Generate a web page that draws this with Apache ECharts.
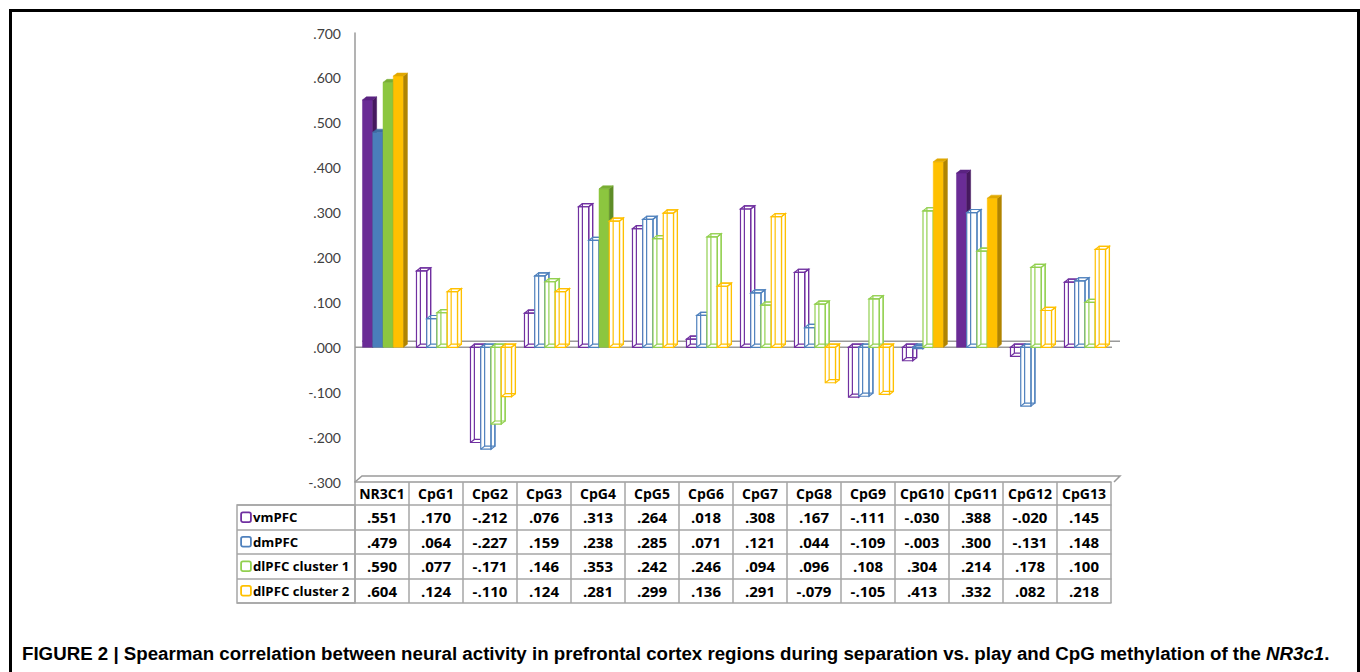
<!DOCTYPE html>
<html><head><meta charset="utf-8">
<script src="https://cdn.jsdelivr.net/npm/echarts@6/dist/echarts.min.js"></script>
<style>html,body{margin:0;padding:0;background:#fff}#c{width:1360px;height:672px}</style>
</head><body><div id="c"></div>
<script>
// ---------- data ----------
const categories = ['NR3C1','CpG1','CpG2','CpG3','CpG4','CpG5','CpG6','CpG7','CpG8','CpG9','CpG10','CpG11','CpG12','CpG13'];
const seriesNames = ['vmPFC','dmPFC','dlPFC cluster 1','dlPFC cluster 2'];
const vmPFC  = [0.551,0.170,-0.212,0.076,0.313,0.264,0.018,0.308,0.167,-0.111,-0.030,0.388,-0.020,0.145];
const dmPFC  = [0.479,0.064,-0.227,0.159,0.238,0.285,0.071,0.121,0.044,-0.109,-0.003,0.300,-0.131,0.148];
const dlPFC1 = [0.590,0.077,-0.171,0.146,0.353,0.242,0.246,0.094,0.096,0.108,0.304,0.214,0.178,0.100];
const dlPFC2 = [0.604,0.124,-0.110,0.124,0.281,0.299,0.136,0.291,-0.079,-0.105,0.413,0.332,0.082,0.218];
// significant correlations (drawn as solid bars)
const vmPFCSig  = [1,0,0,0,0,0,0,0,0,0,0,1,0,0];
const dmPFCSig  = [1,0,0,0,0,0,0,0,0,0,0,0,0,0];
const dlPFC1Sig = [1,0,0,0,1,0,0,0,0,0,0,0,0,0];
const dlPFC2Sig = [1,0,0,0,0,0,0,0,0,0,1,1,0,0];
const yMin = -0.3, yMax = 0.7, yStep = 0.1;

// ---------- styles ----------
const values = [vmPFC, dmPFC, dlPFC1, dlPFC2];
const sigs = [vmPFCSig, dmPFCSig, dlPFC1Sig, dlPFC2Sig];
const colors = ['#7030A0','#4F81BD','#92D050','#FFC000'];
const solid = ['#6A2C96','#4A7EBB','#8CC63F','#FFC000'];
const sides = ['#46195F','#30557F','#5E8C27','#B08400'];
const tops  = ['#5A2381','#3F6DA3','#79AE33','#E0A800'];
const gridLine = '#9a9a9a';
const tableLine = '#a6a6a6';

function fmt(v){
  const s = Math.abs(v).toFixed(3).replace(/^0/, '');
  return (v < -1e-9 ? '-' : '') + s;
}

function makeRender(si){
  return function(params, api){
    const ci = api.value(0), v = api.value(1), sig = api.value(2);
    const bw = api.size([1,0])[0];
    const w = bw * 0.19;
    const c = api.coord([ci, 0]);
    const p = api.coord([ci, v]);
    const x0 = c[0] - 2*w + si*w + 1;
    const x1 = x0 + w;
    const yTop = Math.min(c[1], p[1]), yBot = Math.max(c[1], p[1]);
    const dx = w*0.38, dy = -w*0.3;
    const frontPts = [[x0,yTop],[x1,yTop],[x1,yBot],[x0,yBot]];
    const topPts = [[x0,yTop],[x1,yTop],[x1+dx,yTop+dy],[x0+dx,yTop+dy]];
    const sidePts = [[x1,yTop],[x1+dx,yTop+dy],[x1+dx,yBot+dy],[x1,yBot]];
    const children = [];
    if (sig) {
      children.push({type:'polygon', shape:{points:frontPts}, style:{fill:solid[si], stroke:solid[si], lineWidth:0.5}});
      children.push({type:'polygon', shape:{points:sidePts}, style:{fill:sides[si], stroke:sides[si], lineWidth:0.5}});
      children.push({type:'polygon', shape:{points:topPts}, style:{fill:tops[si], stroke:tops[si], lineWidth:0.5}});
    } else {
      const silhouette = [[x0,yTop],[x0+dx,yTop+dy],[x1+dx,yTop+dy],[x1+dx,yBot+dy],[x1,yBot],[x0,yBot]];
      const st = {fill:'none', stroke:colors[si], lineWidth:1.2};
      children.push({type:'polygon', shape:{points:silhouette}, style:{fill:'#fff', stroke:'none'}});
      children.push({type:'polygon', shape:{points:[[x0+dx,yTop+dy],[x1+dx,yTop+dy],[x1+dx,yBot+dy],[x0+dx,yBot+dy]]}, style:st});
      children.push({type:'line', shape:{x1:x0, y1:yBot, x2:x0+dx, y2:yBot+dy}, style:st});
      children.push({type:'polygon', shape:{points:frontPts}, style:st});
      children.push({type:'polygon', shape:{points:topPts}, style:st});
      children.push({type:'polygon', shape:{points:sidePts}, style:st});
    }
    return {type:'group', children};
  };
}

function renderDecor(params, api){
  const cs = params.coordSys;
  const y0 = api.coord([0, 0])[1];
  const yB = cs.y + cs.height;
  const L = cs.x, R = cs.x + cs.width;
  const st = {stroke:gridLine, lineWidth:1.5, fill:'none'};
  return {type:'group', children:[
    {type:'line', shape:{x1:L+7, y1:y0-6, x2:R+9, y2:y0-6}, style:st},
    {type:'line', shape:{x1:L, y1:y0, x2:R+1, y2:y0}, style:st},
    {type:'polyline', shape:{points:[[L,yB],[L+7,yB-6],[R+9,yB-6],[R+3,yB]]}, style:st}
  ]};
}

const series = [{
  type:'custom', name:'_decor', xAxisIndex:0, yAxisIndex:0, z:1, silent:true,
  renderItem: renderDecor, data:[[0, 0]]
}];
values.forEach((arr, si) => {
  series.push({
    type:'custom', name: seriesNames[si], xAxisIndex:0, yAxisIndex:0, z:2 + si,
    itemStyle:{color: colors[si]},
    renderItem: makeRender(si),
    encode:{x:0, y:1},
    data: arr.map((v, i) => [i, v, sigs[si][i]])
  });
});

const font = 'Lato, "Open Sans", sans-serif';
const tfont = '"Open Sans", Lato, sans-serif';
const rowOffsets = [23, 48, 72, 97];
const xAxes = [{
  gridIndex:0, type:'category', data:categories, position:'bottom', offset:0,
  axisLine:{onZero:false, lineStyle:{color:gridLine, width:1.5}},
  axisTick:{show:true, interval:0, length:121, lineStyle:{color:tableLine, width:1.5}},
  axisLabel:{interval:0, margin:0, lineHeight:23, fontFamily:tfont, fontWeight:'bold', fontSize:14, color:'#000'}
}];
values.forEach((arr, si) => {
  xAxes.push({
    gridIndex:0, type:'category', data:categories, position:'bottom', offset:rowOffsets[si],
    axisLine:{onZero:false, lineStyle:{color:tableLine, width:1.5}},
    axisTick:{show:false},
    axisLabel:{interval:0, margin:0, lineHeight:24.5, fontFamily:tfont, fontWeight:'bold', fontSize:15, color:'#000',
      formatter:(val, idx) => fmt(arr[idx])}
  });
});
xAxes.push({
  gridIndex:0, type:'category', data:categories, position:'bottom', offset:121,
  axisLine:{onZero:false, lineStyle:{color:tableLine, width:1.5}},
  axisTick:{show:false}, axisLabel:{show:false}
});
xAxes.push({gridIndex:1, type:'category', data:[''], show:false});

const rowRich = {t:{fontFamily:tfont, fontWeight:'bold', fontSize:13.2, color:'#000', padding:[0,0,0,3]}};
colors.forEach((c, i) => {
  rowRich['k' + i] = {width:8, height:8, backgroundColor:'#fff', borderColor:c, borderWidth:1.8, borderRadius:1};
});

const chart = echarts.init(document.getElementById('c'), null, {renderer:'svg'});
chart.setOption({
  animation:false,
  backgroundColor:'#fff',
  grid:[
    {left:355, right:249, top:33, bottom:190, containLabel:false},
    {left:237, top:505, width:118, height:98, show:true, borderColor:tableLine, borderWidth:1.5, backgroundColor:'transparent'}
  ],
  xAxis: xAxes,
  yAxis:[
    {gridIndex:0, type:'value', min:yMin, max:yMax, interval:yStep,
     axisLine:{show:true, lineStyle:{color:gridLine, width:1.5}},
     axisTick:{show:false}, splitLine:{show:false},
     axisLabel:{margin:14, fontFamily:font, fontSize:14, color:'#404040', formatter:fmt}},
    {gridIndex:1, type:'category', data:seriesNames, inverse:true, position:'left',
     axisLine:{show:false}, axisTick:{show:false},
     axisLabel:{inside:true, margin:5, align:'left', rich:rowRich,
       formatter:(val, idx) => '{k' + idx + '|}{t|' + val + '}'},
     splitLine:{show:true, lineStyle:{color:tableLine, width:1.5}}}
  ],
  series: series,
  graphic:[
    {type:'rect', left:8, top:8, shape:{width:1348, height:700}, style:{fill:'none', stroke:'#000', lineWidth:3}, silent:true},
    {type:'text', left:22, top:644, style:{
      text:'{b|FIGURE 2 | Spearman correlation between neural activity in prefrontal cortex regions during separation vs. play and CpG methylation of the }{i|NR3c1}{b|.}',
      rich:{
        b:{fontFamily:'"Liberation Sans", Arial, sans-serif', fontWeight:'bold', fontSize:18.7, fill:'#000'},
        i:{fontFamily:'"Liberation Sans", Arial, sans-serif', fontWeight:'bold', fontStyle:'italic', fontSize:18.7, fill:'#000'}
      }}}
  ]
});
</script></body></html>
